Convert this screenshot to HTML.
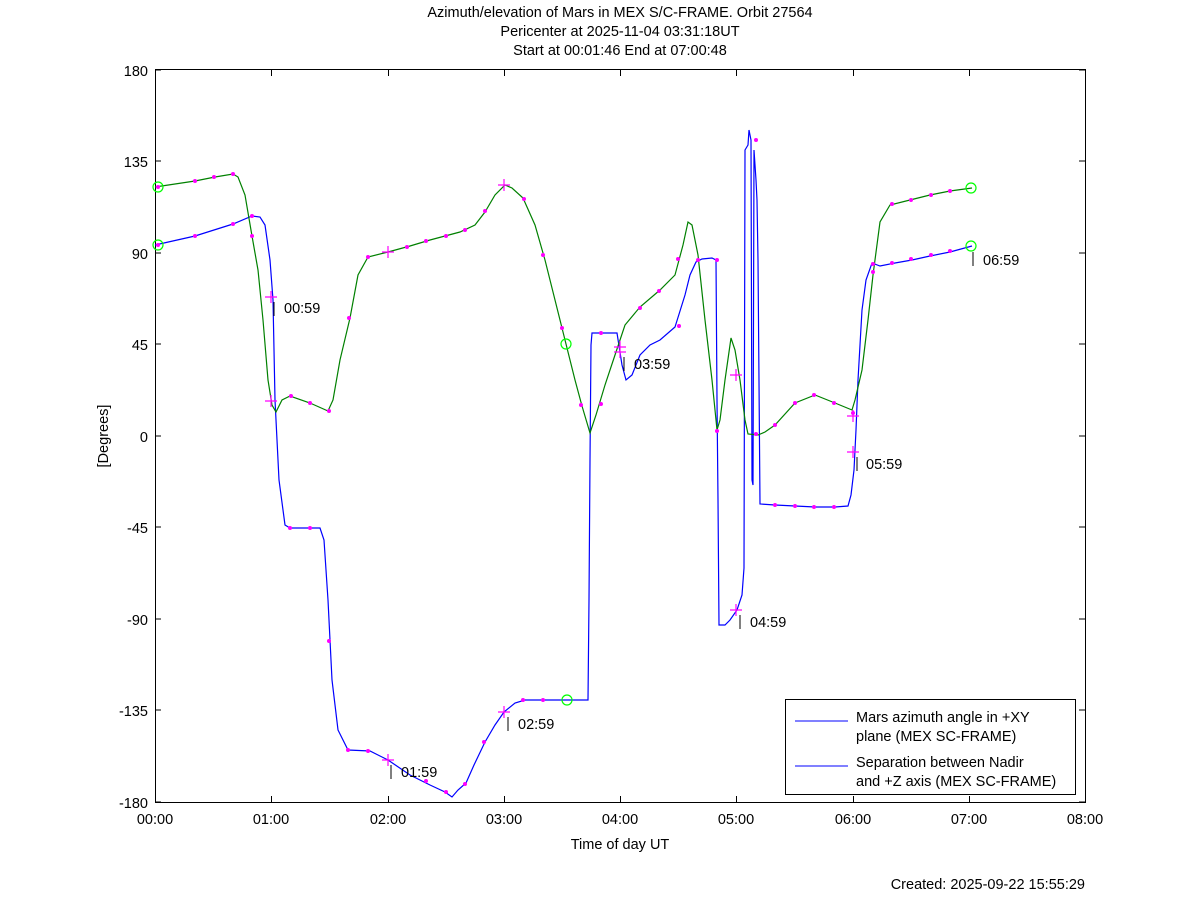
<!DOCTYPE html>
<html><head><style>
body{margin:0;background:#fff;}
svg text{font-family:"Liberation Sans",sans-serif;font-size:14.5px;fill:#000;}
</style></head><body>
<svg width="1200" height="901" xmlns="http://www.w3.org/2000/svg">
<text x="620" y="17" text-anchor="middle">Azimuth/elevation of Mars in MEX S/C-FRAME.  Orbit 27564</text>
<text x="620" y="36" text-anchor="middle">Pericenter at 2025-11-04 03:31:18UT</text>
<text x="620" y="55" text-anchor="middle">Start at 00:01:46 End at 07:00:48</text>
<rect x="155.5" y="69.5" width="930" height="733" fill="none" stroke="#000"/>
<g stroke="#000">
<path d="M155 70h6M155 161h6M155 253h6M155 344h6M155 436h6M155 527h6M155 619h6M155 710h6M155 802h6M1085 70h-6M1085 161h-6M1085 253h-6M1085 344h-6M1085 436h-6M1085 527h-6M1085 619h-6M1085 710h-6M1085 802h-6"/>
<path d="M155.5 802v-6M271.5 802v-6M388.5 802v-6M504.5 802v-6M620.5 802v-6M736.5 802v-6M853.5 802v-6M969.5 802v-6M1085.5 802v-6M155.5 70v6M271.5 70v6M388.5 70v6M504.5 70v6M620.5 70v6M736.5 70v6M853.5 70v6M969.5 70v6"/>
</g>
<g text-anchor="end">
<text x="148" y="76">180</text><text x="148" y="167">135</text><text x="148" y="259">90</text><text x="148" y="350">45</text><text x="148" y="442">0</text><text x="148" y="533">-45</text><text x="148" y="625">-90</text><text x="148" y="716">-135</text><text x="148" y="808">-180</text>
</g>
<g text-anchor="middle">
<text x="155" y="824">00:00</text><text x="271" y="824">01:00</text><text x="388" y="824">02:00</text><text x="504" y="824">03:00</text><text x="620" y="824">04:00</text><text x="736" y="824">05:00</text><text x="853" y="824">06:00</text><text x="969" y="824">07:00</text><text x="1085" y="824">08:00</text>
<text x="620" y="849">Time of day UT</text>
</g>
<text x="108" y="436" text-anchor="middle" transform="rotate(-90 108 436)">[Degrees]</text>
<text x="1085" y="889" text-anchor="end">Created: 2025-09-22 15:55:29</text>
<polyline fill="none" stroke="#0000ff" stroke-width="1.2" points="155,245 195,236 233,224 252,216 260,217 265,225 270,260 273,300 275,400 279,480 285,525 290,528 320,528 324,540 328,600 332,680 338,730 348,750 370,751 388,760 410,775 430,785 445,792 452,797 458,790 466,783 474,765 485,742 495,725 504,712 515,703 525,700 570,700 588,700 589,600 590,460 591,345 592,333 602,333 617,333 622,365 626,380 632,375 640,355 650,345 660,340 675,327 685,295 690,275 696,262 702,259 712,258 716,260 717,400 718,500 719,625 725,625 730,620 737,610 742,595 744,568 745,150 748,145 749,130 751,140 752,480 753,485 754,150 756,180 757,200 758,260 760,504 775,505 795,506 815,507 835,507 848,506 851,495 854,470 856,430 858,380 862,310 866,280 872,263 880,266 895,263 912,260 930,256 950,252 972,246"/>
<polyline fill="none" stroke="#008000" stroke-width="1.2" points="155,187 195,181 215,177 233,174 238,177 245,195 252,236 258,270 263,320 268,380 272,405 276,412 282,400 290,396 310,403 328,411 333,400 340,360 350,318 358,275 368,257 388,252 410,246 430,240 460,232 475,225 485,212 495,195 505,185 512,188 523,198 535,225 545,260 555,300 565,340 575,380 582,406 590,433 596,415 605,385 615,355 625,325 640,307 660,290 675,275 683,245 688,222 692,225 698,255 705,320 712,380 717,430 720,420 725,380 731,338 735,350 740,380 745,420 748,434 758,435 765,432 775,425 795,403 815,395 835,403 852,410 855,400 862,370 868,320 873,275 880,222 890,205 910,200 930,195 950,191 972,188"/>
<g fill="#ff00ff">
<circle cx="158" cy="245" r="2"/><circle cx="195" cy="236" r="2"/><circle cx="233" cy="224" r="2"/><circle cx="252" cy="216" r="2"/><circle cx="290" cy="528" r="2"/><circle cx="310" cy="528" r="2"/><circle cx="329" cy="641" r="2"/><circle cx="348" cy="750" r="2"/><circle cx="368" cy="751" r="2"/><circle cx="426" cy="781" r="2"/><circle cx="446" cy="792" r="2"/><circle cx="465" cy="784" r="2"/><circle cx="484" cy="742" r="2"/><circle cx="523" cy="700" r="2"/><circle cx="543" cy="700" r="2"/><circle cx="601" cy="333" r="2"/><circle cx="640" cy="308" r="2"/><circle cx="659" cy="291" r="2"/><circle cx="679" cy="326" r="2"/><circle cx="698" cy="260" r="2"/><circle cx="717" cy="260" r="2"/><circle cx="756" cy="140" r="2"/><circle cx="775" cy="505" r="2"/><circle cx="795" cy="506" r="2"/><circle cx="814" cy="507" r="2"/><circle cx="834" cy="507" r="2"/><circle cx="873" cy="264" r="2"/><circle cx="892" cy="263" r="2"/><circle cx="911" cy="259" r="2"/><circle cx="931" cy="255" r="2"/><circle cx="950" cy="251" r="2"/>
<circle cx="158" cy="187" r="2"/><circle cx="195" cy="181" r="2"/><circle cx="214" cy="177" r="2"/><circle cx="233" cy="174" r="2"/><circle cx="252" cy="236" r="2"/><circle cx="291" cy="396" r="2"/><circle cx="310" cy="403" r="2"/><circle cx="329" cy="411" r="2"/><circle cx="349" cy="318" r="2"/><circle cx="368" cy="257" r="2"/><circle cx="407" cy="247" r="2"/><circle cx="426" cy="241" r="2"/><circle cx="446" cy="236" r="2"/><circle cx="465" cy="230" r="2"/><circle cx="485" cy="211" r="2"/><circle cx="524" cy="199" r="2"/><circle cx="543" cy="255" r="2"/><circle cx="562" cy="328" r="2"/><circle cx="581" cy="405" r="2"/><circle cx="601" cy="404" r="2"/><circle cx="678" cy="259" r="2"/><circle cx="717" cy="431" r="2"/><circle cx="756" cy="434" r="2"/><circle cx="775" cy="425" r="2"/><circle cx="795" cy="403" r="2"/><circle cx="814" cy="395" r="2"/><circle cx="834" cy="403" r="2"/><circle cx="853" cy="413" r="2"/><circle cx="873" cy="272" r="2"/><circle cx="892" cy="204" r="2"/><circle cx="911" cy="200" r="2"/><circle cx="931" cy="195" r="2"/><circle cx="950" cy="191" r="2"/>
</g>
<g stroke="#ff00ff" stroke-width="1.2">
<path d="M265 297h12M271 291v12M265 401h12M271 395v12M382 760h12M388 754v12M382 252h12M388 246v12M498 712h12M504 706v12M498 185h12M504 179v12M614 352h12M620 346v12M614 347h12M620 341v12M730 610h12M736 604v12M730 375h12M736 369v12M847 452h12M853 446v12M847 416h12M853 410v12"/>
</g>
<g fill="none" stroke="#00ff00" stroke-width="1.2">
<circle cx="158" cy="245" r="5"/><circle cx="158" cy="187" r="5"/><circle cx="971" cy="246" r="5"/><circle cx="971" cy="188" r="5"/><circle cx="567" cy="700" r="5"/><circle cx="566" cy="344" r="5"/>
</g>
<g stroke="#000"><path d="M274 302v14M391 765v14M508 717v14M624 357v14M740 615v14M857 457v14M973 252v14"/></g>
<text x="284" y="313">00:59</text><text x="401" y="777">01:59</text><text x="518" y="729">02:59</text><text x="634" y="369">03:59</text><text x="750" y="627">04:59</text><text x="866" y="469">05:59</text><text x="983" y="265">06:59</text>
<rect x="785.5" y="699.5" width="290" height="95" fill="#fff" stroke="#000"/>
<line x1="795" y1="721" x2="848" y2="721" stroke="#0000ff"/>
<line x1="795" y1="766" x2="848" y2="766" stroke="#0000ff"/>
<text x="856" y="722">Mars azimuth angle in +XY</text><text x="856" y="741">plane (MEX SC-FRAME)</text>
<text x="856" y="767">Separation between Nadir</text><text x="856" y="786">and +Z axis (MEX SC-FRAME)</text>
</svg>
</body></html>
